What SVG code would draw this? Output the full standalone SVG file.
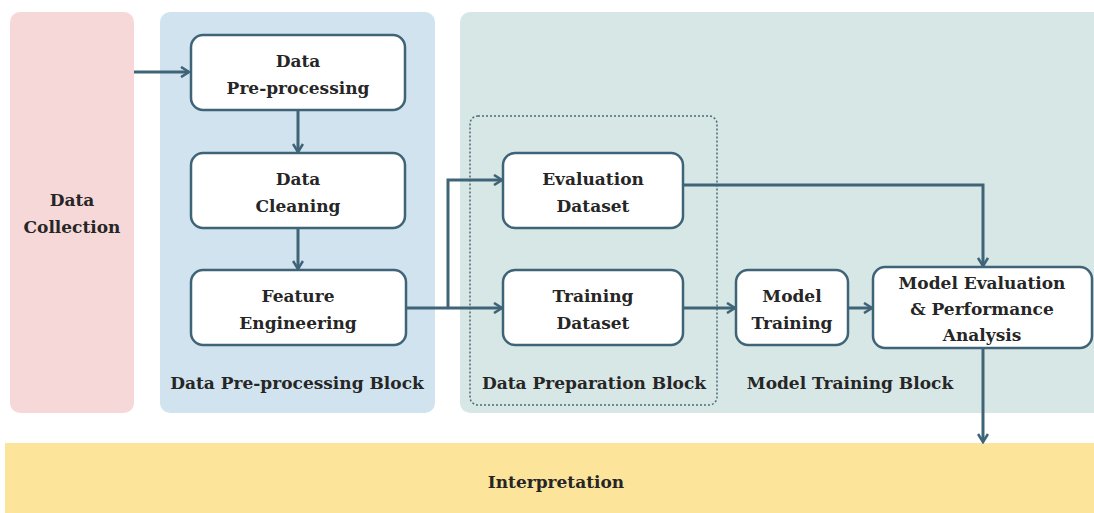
<svg xmlns="http://www.w3.org/2000/svg" width="1094" height="513" viewBox="0 0 1094 513">
  <style>
    .node rect { fill: #ffffff; stroke: #3f6478; stroke-width: 2.5; }
    .lbl { font-family: 'DejaVu Serif', serif; font-weight: 700; font-size: 17px; fill: #262626; text-anchor: middle; }
    .conn { fill: none; stroke: #3f6478; stroke-width: 3; }
  </style>
  <defs>
    <marker id="arrow" viewBox="0 0 12 12" refX="10" refY="6" markerWidth="12" markerHeight="12" markerUnits="userSpaceOnUse" orient="auto">
      <path d="M2,1 L10,6 L2,11" fill="none" stroke="#3f6478" stroke-width="2.6" stroke-linejoin="miter"/>
    </marker>
  </defs>

  <rect width="1094" height="513" fill="#ffffff"/>

  <!-- background blocks -->
  <g id="block-collection">
    <rect x="10" y="12" width="124" height="401" rx="10" fill="#f6d8d8"/>
    <text class="lbl" x="72" y="206">Data</text>
    <text class="lbl" x="72" y="233">Collection</text>
  </g>
  <g id="block-preprocessing">
    <rect x="160" y="12" width="275" height="401" rx="10" fill="#d0e3ef"/>
    <text class="lbl" x="297" y="389">Data Pre-processing Block</text>
  </g>
  <g id="block-training">
    <rect x="460" y="12" width="644" height="401" rx="10" fill="#d7e7e6"/>
    <text class="lbl" x="850" y="389">Model Training Block</text>
  </g>
  <g id="block-preparation">
    <rect x="470" y="116" width="247" height="289" rx="8" fill="none" stroke="#4d6b7a" stroke-width="1.5" stroke-dasharray="2,2"/>
    <text class="lbl" x="594" y="389">Data Preparation Block</text>
  </g>
  <g id="block-interpretation">
    <rect x="5" y="443" width="1094" height="75" fill="#fce59b"/>
    <text class="lbl" x="556" y="488">Interpretation</text>
  </g>

  <!-- connectors -->
  <g id="connectors">
    <line class="conn" x1="134" y1="72" x2="189" y2="72" marker-end="url(#arrow)"/>
    <line class="conn" x1="298" y1="110" x2="298" y2="152" marker-end="url(#arrow)"/>
    <line class="conn" x1="298" y1="228" x2="298" y2="269" marker-end="url(#arrow)"/>
    <line class="conn" x1="407" y1="308" x2="502" y2="308" marker-end="url(#arrow)"/>
    <polyline class="conn" points="448,308 448,180 502,180" marker-end="url(#arrow)"/>
    <polyline class="conn" points="683,185 983,185 983,266" marker-end="url(#arrow)"/>
    <line class="conn" x1="683" y1="308" x2="735" y2="308" marker-end="url(#arrow)"/>
    <line class="conn" x1="848" y1="308" x2="872" y2="308" marker-end="url(#arrow)"/>
    <line class="conn" x1="983" y1="348" x2="983" y2="442" marker-end="url(#arrow)"/>
  </g>

  <!-- process nodes -->
  <g id="node-preprocessing" class="node">
    <rect x="191" y="35" width="214" height="75" rx="12"/>
    <text class="lbl" x="298" y="67">Data</text>
    <text class="lbl" x="298" y="94">Pre-processing</text>
  </g>
  <g id="node-cleaning" class="node">
    <rect x="191" y="153" width="214" height="75" rx="12"/>
    <text class="lbl" x="298" y="185">Data</text>
    <text class="lbl" x="298" y="212">Cleaning</text>
  </g>
  <g id="node-feature" class="node">
    <rect x="191" y="270" width="215" height="75" rx="12"/>
    <text class="lbl" x="298" y="302">Feature</text>
    <text class="lbl" x="298" y="329">Engineering</text>
  </g>
  <g id="node-evaluation-dataset" class="node">
    <rect x="503" y="153" width="180" height="75" rx="12"/>
    <text class="lbl" x="593" y="185">Evaluation</text>
    <text class="lbl" x="593" y="212">Dataset</text>
  </g>
  <g id="node-training-dataset" class="node">
    <rect x="503" y="270" width="180" height="75" rx="12"/>
    <text class="lbl" x="593" y="302">Training</text>
    <text class="lbl" x="593" y="329">Dataset</text>
  </g>
  <g id="node-model-training" class="node">
    <rect x="736" y="270" width="112" height="75" rx="12"/>
    <text class="lbl" x="792" y="302">Model</text>
    <text class="lbl" x="792" y="329">Training</text>
  </g>
  <g id="node-model-evaluation" class="node">
    <rect x="873" y="267" width="219" height="81" rx="12"/>
    <text class="lbl" x="982" y="289">Model Evaluation</text>
    <text class="lbl" x="982" y="315">&amp; Performance</text>
    <text class="lbl" x="982" y="341">Analysis</text>
  </g>
</svg>
